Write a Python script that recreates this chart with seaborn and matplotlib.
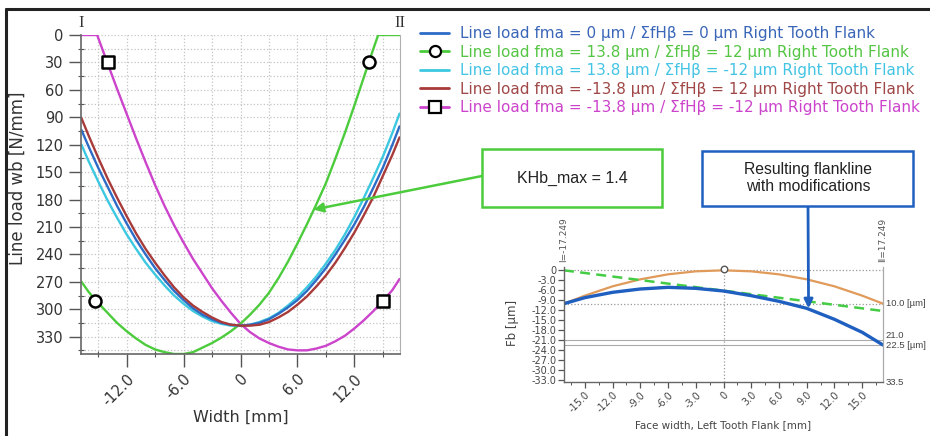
"""
Line load distribution across the face width (left) and the resulting
flankline with modifications (inset, bottom right).
"""

import numpy as np
import pandas as pd
import matplotlib
matplotlib.use("Agg")
import matplotlib.pyplot as plt
from matplotlib.lines import Line2D
from matplotlib.patches import Rectangle
from matplotlib.ticker import MultipleLocator
import seaborn as sns

# ── Data: main chart (line load wb [N/mm] vs width [mm]) ────────────────────
x_main = [-16.75, -16, -15, -14, -13, -12, -11, -10, -9, -8, -7, -6, -5, -4, -3, -2, -1,
          0, 1, 2, 3, 4, 5, 6, 7, 8, 9, 10, 11, 12, 13, 14, 15, 16, 16.75]
load_blue = [104, 122, 145, 166, 187, 206, 224, 240, 255, 268, 280, 290, 299, 306, 311, 315, 317,
             318, 317, 315, 311, 305, 298, 290, 280, 268, 255, 240, 224, 207, 188, 167, 145, 120, 100]
load_cyan = [120, 138, 160, 181, 200, 218, 234, 249, 262, 274, 285, 294, 302, 308, 313, 316, 318,
             318, 317, 314, 310, 304, 296, 287, 276, 264, 250, 235, 218, 199, 178, 156, 133, 107, 86]
load_brown = [91, 110, 134, 157, 178, 198, 217, 234, 249, 263, 276, 287, 296, 303, 309, 314, 317,
              318, 318, 317, 314, 309, 303, 295, 286, 275, 263, 249, 233, 216, 197, 177, 154, 131, 112]

x_green = [-16.75, -16, -15, -14, -13, -12, -11, -10, -9, -8, -7, -6, -5, -4, -3, -2, -1,
           0, 1, 2, 3, 4, 5, 6, 7, 8, 9, 10, 11, 12, 13, 14, 14.5, 16.75]
load_green = [270, 281, 293, 304, 315, 324, 332, 339, 344, 347, 349, 349, 347, 342, 337, 331, 324,
              316, 306, 295, 282, 266, 248, 228, 207, 185, 162, 135, 107, 77, 46, 15, 0, 0]

x_magenta = [-16.75, -15.1, -14, -13, -12, -11, -10, -9, -8, -7, -6, -5, -4, -3, -2, -1,
             0, 1, 2, 3, 4, 5, 6, 7, 8, 9, 10, 11, 12, 13, 14, 15, 16, 16.75]
load_magenta = [0, 0, 31, 59, 86, 113, 139, 164, 187, 208, 227, 245, 261, 277, 291, 304,
                316, 325, 332, 337, 341, 344, 345, 345, 343, 340, 335, 329, 321, 312, 302, 291, 279, 267]

circle_x = [-15.3, 13.5]
circle_y = [291, 30]
square_x = [-14.0, 15.0]
square_y = [30, 291]

series_names = [
    "Line load fma = 0 µm / ΣfHβ = 0 µm Right Tooth Flank",
    "Line load fma = 13.8 µm / ΣfHβ = 12 µm Right Tooth Flank",
    "Line load fma = 13.8 µm / ΣfHβ = -12 µm Right Tooth Flank",
    "Line load fma = -13.8 µm / ΣfHβ = 12 µm Right Tooth Flank",
    "Line load fma = -13.8 µm / ΣfHβ = -12 µm Right Tooth Flank",
]
line_colors = ["#2d6cc6", "#4ccc3c", "#3cc8e0", "#a83a3a", "#cc44cc"]
text_colors = ["#3a66b8", "#55c544", "#44c4e4", "#a04848", "#cc44cc"]

main_xticks = [-12, -6, 0, 6, 12]
main_xtick_labels = ["-12.0", "-6.0", "0", "6.0", "12.0"]
main_yticks = [0, 30, 60, 90, 120, 150, 180, 210, 240, 270, 300, 330]

# ── Data: inset (flankline Fb [µm] vs face width [mm]) ──────────────────────
x_inset = [-17.249, -15, -12, -9, -6, -3, 0, 3, 6, 9, 12, 15, 17.249]
crowning_y = [-10, -7.6, -4.8, -2.7, -1.2, -0.3, 0, -0.3, -1.2, -2.7, -4.8, -7.6, -10]
flankline_y = [-10, -8.2, -6.6, -5.6, -5.1, -5.4, -6.2, -7.6, -9.3, -11.4, -14.7, -18.6, -22.4]
x_slope = [-17.249, 17.249]
slope_y = [0, -12.2]
inset_marker_x = [0]
inset_marker_y = [0.3]

inset_xticks = [-15, -12, -9, -6, -3, 0, 3, 6, 9, 12, 15]
inset_xtick_labels = ["-15.0", "-12.0", "-9.0", "-6.0", "-3.0", "0", "3.0", "6.0", "9.0", "12.0", "15.0"]
inset_yticks = [0, -3, -6, -9, -12, -15, -18, -21, -24, -27, -30, -33]
inset_ytick_labels = ["0", "-3.0", "-6.0", "-9.0", "-12.0", "-15.0", "-18.0", "-21.0",
                      "-24.0", "-27.0", "-30.0", "-33.0"]
ref_levels = [-10, -21, -22.5, -33.5]
ref_labels = ["10.0 [µm]", "21.0", "22.5 [µm]", "33.5"]
ref_valign = ["center", "bottom", "center", "center"]

# ── Figure ───────────────────────────────────────────────────────────────────
sns.set_style("white")
plt.rcParams["font.family"] = ["DejaVu Sans"]

W, H = 930, 436
fig = plt.figure(figsize=(W / 100, H / 100), dpi=100)


def px_box(x0, y0, x1, y1):
    """Pixel box (top-left origin) -> figure fraction rect."""
    return [x0 / W, 1 - y1 / H, (x1 - x0) / W, (y1 - y0) / H]


# outer frame (left + top)
fig.add_artist(Line2D([6 / W, 6 / W], [0, 1 - 9 / H], transform=fig.transFigure, color="#222", lw=2.2))
fig.add_artist(Line2D([6 / W, 1], [1 - 9 / H, 1 - 9 / H], transform=fig.transFigure, color="#222", lw=2.2))

# ── Main chart ───────────────────────────────────────────────────────────────
ax = fig.add_axes(px_box(81, 35, 400, 354))

frames = [
    pd.DataFrame({"x": x_main, "y": load_blue, "series": series_names[0]}),
    pd.DataFrame({"x": x_green, "y": load_green, "series": series_names[1]}),
    pd.DataFrame({"x": x_main, "y": load_cyan, "series": series_names[2]}),
    pd.DataFrame({"x": x_main, "y": load_brown, "series": series_names[3]}),
    pd.DataFrame({"x": x_magenta, "y": load_magenta, "series": series_names[4]}),
]
df = pd.concat(frames, ignore_index=True)
draw_order = [series_names[i] for i in (4, 1, 2, 0, 3)]
for name in draw_order:
    sub = df[df["series"] == name]
    sns.lineplot(data=sub, x="x", y="y", color=line_colors[series_names.index(name)],
                 lw=1.7, estimator=None, sort=False, ax=ax, legend=False)

sns.scatterplot(x=circle_x, y=circle_y, marker="o", s=75, facecolor="white",
                edgecolor="black", linewidth=1.8, ax=ax, zorder=5)
sns.scatterplot(x=square_x, y=square_y, marker="s", s=75, facecolor="white",
                edgecolor="black", linewidth=1.8, ax=ax, zorder=5)

ax.set_xlim(-16.8, 16.8)
ax.set_ylim(349, 0)
ax.set_xticks(main_xticks)
ax.set_xticklabels(main_xtick_labels, rotation=45, ha="right", rotation_mode="anchor")
ax.xaxis.set_minor_locator(MultipleLocator(3))
ax.set_yticks(main_yticks)
ax.yaxis.set_minor_locator(MultipleLocator(15))
ax.tick_params(which="both", bottom=True, left=True, colors="#555", labelcolor="#333")
ax.tick_params(which="major", direction="out", length=9, width=1, labelsize=10.5)
ax.tick_params(which="minor", direction="inout", length=5, width=0.8)
ax.grid(which="both", color="#c4c4c4", linestyle=":", linewidth=0.9)
ax.spines["top"].set_visible(False)
ax.spines["right"].set_color("#b0b0b0")
ax.spines["right"].set_linewidth(0.8)
for s in ("left", "bottom"):
    ax.spines[s].set_color("#666")
    ax.spines[s].set_linewidth(1.2)
ax.set_xlabel("Width [mm]", fontsize=11.5, color="#333")
ax.set_ylabel("Line load wb [N/mm]", fontsize=12, color="#333")
ax.xaxis.set_label_coords(0.5, -0.175)
ax.yaxis.set_label_coords(-0.17, 0.55)

ax.text(-16.75, 1.012, "I", transform=ax.get_xaxis_transform(), ha="center", va="bottom",
        family="Liberation Serif", fontsize=12, color="#333")
ax.text(16.8, 1.012, "II", transform=ax.get_xaxis_transform(), ha="center", va="bottom",
        family="Liberation Serif", fontsize=12, color="#333")

# legend
handles = [
    Line2D([], [], color=line_colors[0], lw=2),
    Line2D([], [], color=line_colors[1], lw=2, marker="o", ms=8, mfc="white", mec="black", mew=1.6),
    Line2D([], [], color=line_colors[2], lw=2),
    Line2D([], [], color=line_colors[3], lw=2),
    Line2D([], [], color=line_colors[4], lw=2, marker="s", ms=8, mfc="white", mec="black", mew=1.6),
]
leg = fig.legend(handles, series_names, loc="upper left", bbox_to_anchor=(420 / W, 1 - 26 / H),
                 frameon=False, fontsize=11, handlelength=1.9, handletextpad=0.7,
                 labelspacing=0.23, borderpad=0, borderaxespad=0)
for t, c in zip(leg.get_texts(), text_colors):
    t.set_color(c)

# KHb box + arrow to the green curve
fig.add_artist(Rectangle((482 / W, 1 - 207 / H), 180 / W, 58 / H, transform=fig.transFigure,
                         fc="white", ec="#4ccc3c", lw=1.8))
fig.text(572 / W, 1 - 178 / H, "KHb_max = 1.4", ha="center", va="center",
         family="Liberation Sans", fontsize=11.5, color="#222")
ax.annotate("", xy=(7.7, 191), xycoords="data", xytext=(482 / W, 1 - 176 / H),
            textcoords="figure fraction",
            arrowprops=dict(arrowstyle="-|>", color="#4ccc3c", lw=1.8, mutation_scale=14,
                            shrinkA=0, shrinkB=0))

# ── Inset chart ──────────────────────────────────────────────────────────────
ax2 = fig.add_axes(px_box(564, 267, 883, 382))
for lvl in (0, -10):
    ax2.axhline(lvl, color="#999", ls=":", lw=0.9, zorder=1)
for lvl in (-21, -22.5):
    ax2.axhline(lvl, color="#aaa", ls="-", lw=0.8, zorder=1)
ax2.axvline(0, color="#999", ls=":", lw=0.9, zorder=1)

sns.lineplot(x=x_inset, y=crowning_y, color="#e09a5a", lw=1.6, ax=ax2, estimator=None)
sns.lineplot(x=x_slope, y=slope_y, color="#44cc44", lw=1.8, linestyle=(0, (4, 2.5)),
             ax=ax2, estimator=None)
sns.lineplot(x=x_inset, y=flankline_y, color="#1f5fc0", lw=2.4, ax=ax2, estimator=None)
sns.scatterplot(x=inset_marker_x, y=inset_marker_y, marker="o", s=22, facecolor="white",
                edgecolor="#555", linewidth=1, ax=ax2, zorder=5, clip_on=False)

ax2.set_xlim(-17.249, 17.249)
ax2.set_ylim(-33.5, 1)
ax2.set_xticks(inset_xticks)
ax2.set_xticklabels(inset_xtick_labels, rotation=45, ha="right", rotation_mode="anchor")
ax2.xaxis.set_minor_locator(MultipleLocator(1.5))
ax2.set_yticks(inset_yticks)
ax2.set_yticklabels(inset_ytick_labels)
ax2.tick_params(which="both", bottom=True, left=True, colors="#555", labelcolor="#444")
ax2.tick_params(which="major", direction="out", length=4, width=0.9, labelsize=7, pad=1.5)
ax2.tick_params(which="minor", direction="out", length=2.5, width=0.7)
ax2.spines["top"].set_visible(False)
ax2.spines["right"].set_color("#aaa")
ax2.spines["right"].set_linewidth(0.9)
for s in ("left", "bottom"):
    ax2.spines[s].set_color("#666")
    ax2.spines[s].set_linewidth(1.0)
ax2.set_xlabel("Face width, Left Tooth Flank [mm]", fontsize=7.5, color="#444")
ax2.set_ylabel("Fb [µm]", fontsize=8.5, color="#444")
ax2.xaxis.set_label_coords(0.5, -0.33)
ax2.yaxis.set_label_coords(-0.14, 0.51)

for lvl, lab, va in zip(ref_levels, ref_labels, ref_valign):
    ax2.annotate(lab, xy=(1, lvl), xycoords=ax2.get_yaxis_transform(), xytext=(2, 0),
                 textcoords="offset points", ha="left", va=va, fontsize=6.8,
                 family="Liberation Sans", color="#444")
ax2.text(-17.249, 1.04, "I=-17.249", transform=ax2.get_xaxis_transform(), rotation=90,
         ha="center", va="bottom", fontsize=6.5, color="#555")
ax2.text(17.249, 1.04, "II=17.249", transform=ax2.get_xaxis_transform(), rotation=90,
         ha="center", va="bottom", fontsize=6.5, color="#555")

# "Resulting flankline" box + arrow down to the flankline
fig.add_artist(Rectangle((702 / W, 1 - 206 / H), 211 / W, 55 / H, transform=fig.transFigure,
                         fc="white", ec="#2060c0", lw=1.8))
fig.text(808 / W, 1 - 178 / H, "Resulting flankline\nwith modifications", ha="center",
         va="center", family="Liberation Sans", fontsize=11.3, color="#222", linespacing=1.1)
ax2.annotate("", xy=(9.2, -11.4), xycoords="data", xytext=(808 / W, 1 - 206 / H),
             textcoords="figure fraction",
             arrowprops=dict(arrowstyle="-|>", color="#1f5fc0", lw=2, mutation_scale=13,
                             shrinkA=0, shrinkB=0))

fig.savefig("out.png", dpi=100)
plt.close(fig)
